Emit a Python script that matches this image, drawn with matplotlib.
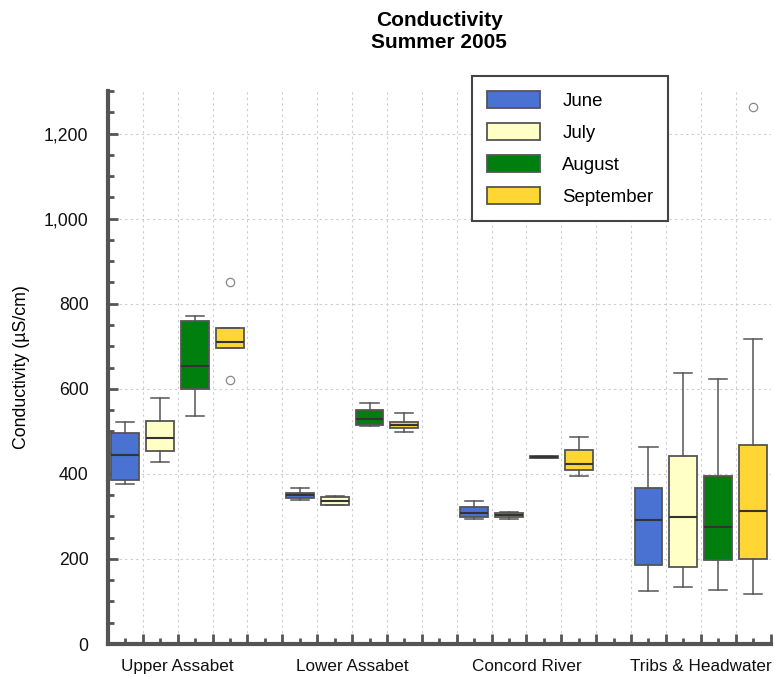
import numpy as np
import matplotlib
matplotlib.use("Agg")
import matplotlib.pyplot as plt
from matplotlib.patches import Patch
from matplotlib.ticker import FixedLocator, FixedFormatter, MultipleLocator, FuncFormatter

plt.rcParams['font.family'] = ['Liberation Sans', 'DejaVu Sans']

# data (uS/cm)
sites = ["Upper Assabet", "Lower Assabet", "Concord River", "Tribs & Headwater"]
months = ["June", "July", "August", "September"]
colors = ["#4A72D2", "#FFFFC6", "#007F0E", "#FFD633"]

# per month: one value per site
whislo = [[377, 338, 294, 124],
          [427, 326, 294, 135],
          [537, 512, 437, 128],
          [695, 498, 394, 117]]
q1 = [[385, 344, 299, 185],
      [454, 326, 298, 182],
      [599, 514, 437, 197],
      [695, 507, 408, 200]]
med = [[445, 350, 309, 291],
       [485, 337, 304, 299],
       [654, 529, 440, 276],
       [709, 516, 424, 312]]
q3 = [[495, 356, 322, 366],
      [524, 345, 308, 443],
      [760, 549, 441, 395],
      [743, 522, 455, 467]]
whishi = [[522, 366, 337, 463],
          [578, 348, 311, 636],
          [770, 567, 441, 622],
          [743, 542, 486, 716]]
fliers = [[[], [], [], []],
          [[], [], [], []],
          [[], [], [], []],
          [[620, 850], [], [], [1262]]]

fig = plt.figure(figsize=(7.74, 6.77), dpi=100)
ax = fig.add_axes([0.1395, 0.0487, 0.9955 - 0.1395, 0.8656 - 0.0487])

for m in range(4):
    stats = []
    for s in range(4):
        stats.append(dict(med=med[m][s], q1=q1[m][s], q3=q3[m][s],
                          whislo=whislo[m][s], whishi=whishi[m][s],
                          fliers=fliers[m][s]))
    pos = [s * 5 + m for s in range(4)]
    ax.bxp(stats, positions=pos, widths=0.8, capwidths=0.52, patch_artist=True,
           boxprops=dict(facecolor=colors[m], edgecolor="#555555", linewidth=1.3),
           medianprops=dict(color="#333333", linewidth=1.5),
           whiskerprops=dict(color="#555555", linewidth=1.1),
           capprops=dict(color="#555555", linewidth=1.1),
           flierprops=dict(marker="o", markerfacecolor="none", markeredgecolor="#888888",
                           markersize=6, markeredgewidth=0.9))

ax.set_xlim(-0.5, 18.5)
ax.set_ylim(0, 1300)

# x ticks: major at slot boundaries, labels at group centres
bounds = np.arange(-0.5, 19, 1)
labels = []
for b in bounds:
    lab = ""
    for g, name in enumerate(sites):
        if abs(b - (g * 5 + 1.5)) < 1e-6:
            lab = name
    labels.append(lab)
ax.xaxis.set_major_locator(FixedLocator(bounds))
ax.xaxis.set_major_formatter(FixedFormatter(labels))
ax.xaxis.set_minor_locator(FixedLocator(np.arange(0, 19, 1)))

ax.yaxis.set_major_locator(MultipleLocator(200))
ax.yaxis.set_minor_locator(MultipleLocator(50))
ax.yaxis.set_major_formatter(FuncFormatter(lambda v, p: "{:,.0f}".format(v)))

ax.tick_params(which="both", direction="in", color="#555555")
ax.tick_params(which="major", length=7, width=2)
ax.tick_params(which="minor", length=4, width=2)
ax.tick_params(axis="x", which="both", pad=11, labelcolor="#111111", labelsize=12.3)
ax.tick_params(axis="y", which="both", pad=14, labelcolor="#111111", labelsize=12.7)

for sp in ["top", "right"]:
    ax.spines[sp].set_visible(False)
for sp in ["left", "bottom"]:
    ax.spines[sp].set_linewidth(3)
    ax.spines[sp].set_color("#555555")

ax.grid(True, which="major", color="#CCCCCC", linestyle=(0, (2, 3)), linewidth=0.8)
ax.set_axisbelow(True)

ax.set_ylabel("Conductivity (µS/cm)", fontsize=12.8, labelpad=10)
ax.set_title("Conductivity\nSummer 2005", fontsize=15, fontweight="bold", pad=31,
             linespacing=1.2)

handles = [Patch(facecolor=c, edgecolor="#555555", linewidth=1.3) for c in colors]
leg = ax.legend(handles, months, loc="upper left",
                bbox_to_anchor=((472 - 108) / (770.5 - 108), 1 - (76 - 91) / (644 - 91)),
                borderaxespad=0, fontsize=13.4, handlelength=2.85, handleheight=1.0,
                handletextpad=1.2, labelspacing=0.72, borderpad=0.8, fancybox=False,
                framealpha=1)
leg.get_frame().set_edgecolor("#444444")
leg.get_frame().set_linewidth(1.5)

fig.savefig("out.png", dpi=100)
